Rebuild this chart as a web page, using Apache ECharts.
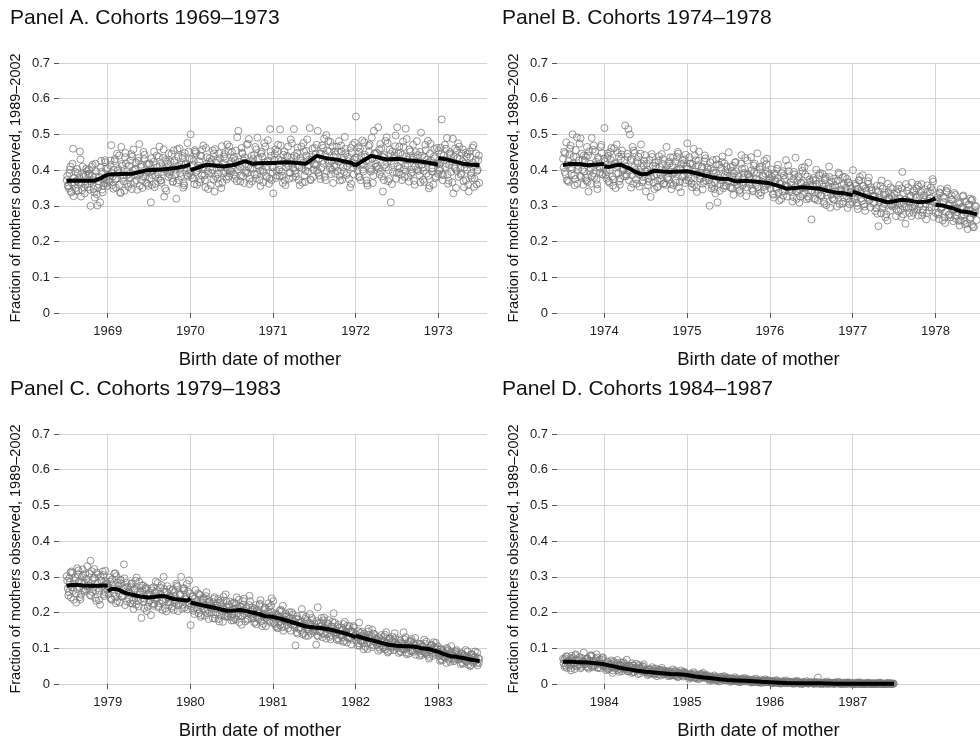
<!DOCTYPE html>
<html>
<head>
<meta charset="utf-8">
<script src="https://cdn.jsdelivr.net/npm/echarts@6/dist/echarts.min.js"></script>
<style>
html, body { margin: 0; padding: 0; background: #fff; }
#chart { width: 980px; height: 743px; }
</style>
</head>
<body>
<div id="chart"></div>
<script>
// ---- text ----
const panelTitles = [
  "Panel A. Cohorts 1969–1973",
  "Panel B. Cohorts 1974–1978",
  "Panel C. Cohorts 1979–1983",
  "Panel D. Cohorts 1984–1987"
];
const yTitle = "Fraction of mothers observed, 1989–2002";
const xTitle = "Birth date of mother";

// ---- tick labels ----
const yearsA = [1969, 1970, 1971, 1972, 1973];
const yearsB = [1974, 1975, 1976, 1977, 1978];
const yearsC = [1979, 1980, 1981, 1982, 1983];
const yearsD = [1984, 1985, 1986, 1987];

// ---- scatter, read off the cloud ----
// three passes per panel, each one value per week (one row = one quarter),
// the passes sit a third of a week apart
// panel A: mid-1968 .. mid-1973
const pointsA1 = [
  .372,.355,.401,.338,.46,.365,.342,.392,.378,.326,.41,.351,.386,
  .361,.402,.30,.383,.347,.418,.332,.369,.31,.395,.356,.428,.374,
  .405,.368,.47,.382,.425,.351,.398,.441,.336,.412,.379,.448,.362,
  .389,.427,.347,.458,.401,.372,.434,.356,.415,.383,.443,.365,.397,
  .419,.31,.386,.452,.362,.408,.437,.371,.395,.458,.349,.424,.381,
  .396,.445,.368,.427,.32,.412,.461,.383,.434,.357,.419,.476,.39,
  .5,.378,.426,.452,.359,.405,.441,.386,.469,.372,.418,.347,.433,
  .392,.455,.34,.421,.376,.447,.408,.365,.438,.394,.472,.382,.417,
  .451,.388,.428,.369,.51,.41,.462,.383,.436,.398,.474,.361,.425,
  .404,.443,.377,.491,.412,.356,.438,.395,.466,.381,.427,.515,.372,
  .335,.445,.398,.471,.383,.426,.364,.452,.409,.437,.376,.486,.419,
  .515,.391,.448,.372,.433,.405,.476,.367,.441,.396,.518,.428,.381,
  .462,.413,.51,.385,.447,.426,.488,.372,.455,.419,.479,.401,.438,
  .39,.466,.424,.371,.452,.409,.493,.386,.437,.418,.362,.471,.43,
  .55,.398,.451,.372,.483,.416,.437,.363,.468,.405,.491,.384,.446,
  .427,.52,.389,.461,.34,.442,.408,.476,.375,.31,.453,.418,.497,
  .52,.394,.448,.372,.465,.413,.487,.381,.436,.402,.471,.359,.425,
  .442,.386,.505,.408,.367,.456,.421,.349,.474,.396,.438,.378,.462,
  .454,.403,.542,.386,.471,.418,.362,.446,.395,.488,.409,.35,.433,
  .466,.387,.425,.352,.449,.401,.34,.437,.378,.47,.412,.36,.428
];
const pointsA2 = [
  .384,.349,.41,.362,.327,.395,.371,.343,.452,.366,.389,.335,.404,
  .352,.391,.368,.415,.338,.382,.301,.359,.407,.346,.377,.422,.364,
  .371,.414,.392,.348,.431,.377,.403,.359,.465,.386,.342,.419,.397,
  .412,.361,.438,.385,.404,.345,.426,.392,.372,.451,.381,.417,.356,
  .377,.433,.398,.352,.415,.389,.466,.371,.405,.326,.428,.393,.447,
  .423,.378,.455,.401,.364,.437,.392,.416,.351,.448,.406,.382,.431,
  .386,.414,.361,.447,.399,.425,.374,.458,.408,.352,.436,.391,.419,
  .428,.373,.459,.406,.389,.433,.35,.418,.445,.381,.402,.466,.397,
  .404,.437,.382,.492,.415,.368,.449,.427,.393,.471,.41,.376,.44,
  .431,.389,.458,.413,.372,.446,.401,.476,.384,.423,.362,.452,.408,
  .407,.458,.385,.429,.514,.396,.443,.371,.418,.466,.392,.435,.379,
  .441,.382,.463,.409,.427,.365,.452,.398,.486,.414,.374,.437,.402,
  .418,.471,.393,.445,.406,.462,.381,.498,.428,.452,.389,.467,.412,
  .444,.397,.481,.415,.373,.436,.46,.392,.425,.352,.448,.407,.477,
  .412,.464,.38,.439,.402,.478,.425,.357,.451,.396,.432,.51,.418,
  .449,.404,.473,.382,.436,.415,.492,.369,.457,.425,.395,.441,.376,
  .411,.466,.387,.443,.402,.516,.429,.368,.452,.394,.437,.41,.481,
  .398,.451,.415,.373,.436,.39,.482,.356,.427,.405,.459,.382,.418,
  .417,.463,.389,.44,.409,.49,.371,.451,.424,.335,.46,.398,.475,
  .432,.391,.458,.407,.372,.445,.416,.385,.463,.353,.429,.398,.441
];
const pointsA3 = [
  .357,.392,.339,.418,.378,.35,.403,.365,.43,.344,.383,.359,.397,
  .388,.345,.409,.372,.323,.396,.351,.381,.426,.338,.364,.404,.356,
  .382,.427,.358,.401,.374,.446,.392,.338,.417,.369,.436,.385,.353,
  .378,.445,.399,.367,.421,.387,.473,.409,.35,.431,.393,.362,.416,
  .396,.359,.423,.384,.441,.376,.411,.365,.434,.403,.342,.417,.388,
  .401,.367,.422,.388,.459,.372,.405,.44,.363,.415,.386,.452,.398,
  .431,.377,.456,.395,.413,.366,.439,.403,.385,.462,.397,.424,.358,
  .401,.447,.383,.426,.362,.41,.467,.391,.432,.374,.453,.399,.425,
  .433,.376,.455,.402,.423,.385,.446,.364,.418,.392,.487,.406,.369,
  .419,.465,.387,.433,.398,.452,.366,.421,.409,.484,.376,.44,.394,
  .429,.378,.452,.401,.469,.384,.423,.358,.44,.412,.393,.475,.405,
  .398,.437,.413,.358,.466,.421,.385,.454,.409,.43,.372,.46,.416,
  .446,.399,.432,.375,.469,.418,.443,.397,.481,.406,.426,.364,.452,
  .411,.452,.384,.469,.428,.395,.447,.412,.375,.462,.42,.388,.436,
  .435,.382,.46,.417,.396,.443,.371,.428,.472,.401,.364,.447,.41,
  .412,.458,.395,.438,.372,.482,.421,.4,.445,.361,.434,.467,.392,
  .446,.405,.425,.48,.381,.438,.412,.458,.39,.429,.37,.451,.402,
  .415,.366,.44,.398,.471,.429,.384,.447,.405,.36,.433,.418,.39,
  .398,.445,.372,.429,.46,.387,.415,.442,.366,.438,.404,.455,.381,
  .405,.446,.37,.418,.438,.359,.452,.392,.421,.376,.447,.401,.364
];
// panel B: mid-1973 .. mid-1978
const pointsB1 = [
  .432,.395,.478,.37,.445,.408,.5,.385,.456,.362,.427,.489,.401,
  .441,.379,.465,.34,.418,.49,.392,.452,.373,.436,.406,.471,.387,
  .518,.398,.447,.365,.429,.382,.461,.35,.412,.438,.376,.455,.403,
  .525,.387,.515,.5,.431,.362,.448,.395,.419,.354,.472,.381,.426,
  .34,.402,.368,.325,.437,.383,.411,.352,.426,.376,.445,.361,.398,
  .465,.381,.419,.347,.436,.392,.365,.451,.404,.338,.428,.387,.443,
  .475,.371,.418,.352,.46,.396,.339,.427,.384,.405,.362,.441,.391,
  .402,.3,.361,.428,.347,.393,.31,.415,.372,.438,.356,.397,.384,
  .45,.352,.398,.331,.421,.368,.385,.345,.442,.379,.404,.327,.389,
  .382,.436,.341,.395,.358,.447,.372,.329,.411,.353,.39,.432,.364,
  .374,.402,.331,.386,.348,.415,.362,.319,.397,.341,.428,.355,.383,
  .366,.312,.395,.435,.341,.378,.326,.407,.352,.388,.318,.421,.359,
  .262,.372,.338,.401,.315,.363,.347,.389,.306,.381,.329,.41,.353,
  .322,.376,.341,.298,.393,.335,.358,.312,.381,.327,.366,.304,.349,
  .4,.318,.357,.291,.372,.334,.386,.305,.349,.323,.379,.296,.342,
  .328,.285,.356,.243,.311,.371,.298,.337,.276,.362,.319,.302,.347,
  .334,.271,.312,.358,.289,.395,.306,.25,.342,.294,.326,.365,.281,
  .302,.348,.273,.327,.361,.289,.318,.262,.339,.296,.352,.375,.31,
  .28,.324,.263,.347,.295,.311,.252,.338,.274,.306,.329,.257,.291,
  .272,.31,.245,.293,.326,.258,.281,.235,.304,.267,.318,.24,.285
];
const pointsB2 = [
  .408,.447,.372,.425,.46,.389,.418,.358,.437,.401,.474,.381,.429,
  .396,.438,.367,.452,.405,.384,.469,.415,.36,.431,.393,.448,.41,
  .425,.376,.44,.401,.462,.357,.418,.39,.449,.369,.431,.405,.383,
  .411,.446,.372,.427,.386,.455,.4,.362,.437,.394,.419,.371,.442,
  .395,.358,.428,.381,.412,.347,.404,.371,.439,.386,.418,.363,.401,
  .412,.373,.436,.39,.358,.424,.401,.446,.367,.417,.383,.43,.372,
  .404,.436,.377,.417,.359,.428,.389,.452,.375,.41,.368,.433,.395,
  .381,.422,.349,.399,.365,.43,.386,.342,.407,.371,.419,.356,.394,
  .372,.409,.348,.391,.423,.359,.381,.336,.404,.365,.434,.352,.387,
  .361,.399,.342,.418,.375,.353,.409,.338,.386,.426,.357,.395,.371,
  .348,.381,.323,.369,.404,.337,.362,.392,.329,.375,.353,.413,.341,
  .359,.325,.387,.341,.372,.309,.364,.398,.336,.351,.382,.321,.368,
  .343,.378,.318,.361,.336,.392,.327,.354,.372,.302,.347,.381,.331,
  .352,.317,.369,.33,.388,.342,.306,.361,.338,.375,.319,.356,.329,
  .337,.362,.309,.348,.381,.321,.356,.298,.343,.369,.315,.352,.327,
  .309,.344,.278,.323,.356,.293,.331,.268,.318,.339,.286,.327,.305,
  .322,.291,.347,.306,.269,.335,.298,.361,.314,.28,.329,.296,.343,
  .331,.289,.354,.305,.273,.323,.346,.28,.315,.339,.296,.368,.309,
  .316,.276,.338,.291,.259,.322,.283,.349,.302,.268,.317,.288,.331,
  .294,.258,.311,.271,.329,.249,.287,.302,.262,.315,.241,.279,.298
];
const pointsB3 = [
  .451,.388,.415,.367,.469,.403,.438,.375,.492,.412,.384,.446,.359,
  .426,.371,.441,.398,.362,.457,.381,.423,.347,.409,.465,.389,.432,
  .387,.433,.369,.451,.415,.374,.42,.472,.391,.359,.444,.398,.427,
  .383,.437,.399,.351,.465,.408,.374,.425,.388,.446,.366,.413,.397,
  .418,.376,.393,.445,.365,.421,.388,.354,.409,.372,.431,.394,.359,
  .378,.424,.361,.413,.395,.371,.437,.352,.405,.381,.419,.364,.41,
  .381,.418,.363,.396,.441,.352,.414,.377,.393,.346,.425,.371,.408,
  .372,.404,.356,.392,.335,.416,.378,.361,.423,.349,.387,.41,.368,
  .384,.35,.412,.366,.397,.374,.342,.418,.357,.392,.363,.427,.379,
  .375,.348,.413,.364,.392,.334,.402,.368,.381,.345,.417,.359,.388,
  .365,.334,.391,.352,.378,.315,.369,.341,.385,.358,.326,.397,.347,
  .338,.374,.352,.319,.383,.346,.364,.331,.409,.357,.326,.373,.343,
  .356,.321,.372,.345,.386,.33,.361,.312,.376,.338,.355,.295,.367,
  .318,.357,.334,.371,.305,.346,.38,.323,.351,.294,.364,.339,.311,
  .322,.346,.3,.371,.338,.313,.355,.286,.334,.362,.318,.345,.307,
  .327,.294,.341,.317,.279,.348,.305,.331,.259,.321,.352,.298,.312,
  .303,.337,.284,.321,.349,.276,.317,.296,.352,.31,.271,.338,.292,
  .323,.359,.298,.34,.281,.33,.305,.357,.287,.321,.344,.269,.317,
  .311,.281,.335,.297,.326,.268,.342,.302,.276,.318,.29,.336,.264,
  .283,.306,.259,.297,.275,.312,.251,.288,.32,.247,.278,.3,.26
];
// panel C: mid-1978 .. mid-1983
const pointsC1 = [
  .302,.248,.286,.315,.261,.29,.228,.307,.272,.25,.321,.283,.265,
  .33,.276,.345,.258,.296,.241,.312,.268,.222,.289,.305,.257,.281,
  .275,.298,.237,.266,.309,.226,.284,.253,.292,.245,.335,.27,.231,
  .259,.226,.281,.21,.264,.298,.232,.251,.185,.276,.239,.268,.216,
  .255,.193,.262,.224,.287,.241,.218,.27,.234,.3,.212,.258,.229,
  .246,.213,.265,.229,.281,.204,.252,.3,.222,.268,.238,.209,.29,
  .165,.244,.211,.263,.226,.198,.249,.218,.236,.191,.257,.207,.231,
  .219,.184,.243,.201,.227,.175,.234,.212,.195,.251,.188,.222,.206,
  .226,.178,.21,.243,.19,.218,.166,.232,.197,.212,.183,.247,.203,
  .208,.171,.221,.186,.2,.235,.162,.195,.214,.179,.226,.19,.24,
  .232,.168,.193,.156,.205,.181,.219,.162,.188,.174,.201,.149,.183,
  .176,.108,.19,.155,.171,.21,.143,.182,.159,.135,.196,.165,.148,
  .168,.11,.215,.147,.172,.131,.186,.156,.14,.179,.125,.161,.198,
  .151,.124,.166,.137,.158,.118,.174,.143,.129,.162,.111,.147,.135,
  .139,.108,.172,.121,.146,.097,.132,.115,.155,.126,.103,.141,.118,
  .125,.093,.113,.137,.101,.119,.145,.088,.128,.106,.132,.095,.116,
  .112,.087,.121,.098,.145,.107,.083,.118,.094,.126,.09,.109,.101,
  .103,.079,.112,.091,.124,.086,.099,.071,.108,.095,.117,.084,.1,
  .09,.065,.098,.077,.087,.059,.094,.073,.106,.081,.068,.089,.076,
  .078,.056,.086,.069,.095,.062,.074,.05,.083,.066,.091,.058,.072
];
const pointsC2 = [
  .289,.257,.312,.271,.236,.298,.266,.318,.243,.284,.305,.259,.295,
  .268,.309,.247,.291,.322,.262,.283,.235,.301,.274,.251,.317,.279,
  .252,.287,.236,.278,.245,.302,.263,.228,.281,.249,.296,.259,.272,
  .238,.271,.225,.262,.289,.243,.217,.257,.276,.231,.266,.204,.251,
  .234,.268,.219,.257,.241,.283,.226,.249,.207,.266,.238,.274,.221,
  .229,.262,.207,.245,.276,.221,.251,.233,.268,.214,.246,.259,.225,
  .217,.245,.196,.232,.209,.251,.188,.227,.241,.203,.236,.182,.224,
  .201,.229,.183,.214,.238,.196,.221,.174,.209,.232,.191,.217,.187,
  .195,.228,.181,.212,.236,.19,.207,.222,.175,.216,.199,.232,.184,
  .184,.211,.167,.198,.221,.176,.193,.207,.162,.189,.215,.172,.201,
  .171,.197,.158,.186,.165,.204,.149,.179,.192,.156,.183,.168,.195,
  .158,.183,.141,.172,.151,.193,.162,.135,.176,.147,.168,.185,.154,
  .149,.176,.133,.161,.185,.142,.158,.127,.169,.152,.137,.174,.145,
  .138,.161,.122,.149,.131,.168,.141,.116,.155,.128,.147,.162,.133,
  .121,.148,.107,.133,.115,.141,.126,.098,.137,.111,.152,.119,.129,
  .109,.131,.096,.122,.104,.138,.114,.091,.127,.101,.119,.142,.108,
  .101,.124,.089,.113,.097,.131,.105,.085,.118,.094,.115,.129,.099,
  .093,.112,.081,.104,.089,.119,.097,.076,.109,.087,.103,.115,.091,
  .078,.097,.066,.088,.073,.101,.082,.062,.091,.071,.085,.095,.069,
  .069,.086,.057,.078,.064,.091,.071,.053,.081,.062,.075,.088,.059
];
const pointsC3 = [
  .268,.296,.242,.311,.279,.253,.324,.287,.237,.299,.262,.308,.274,
  .285,.249,.316,.27,.298,.233,.307,.261,.29,.315,.246,.287,.264,
  .266,.241,.293,.255,.31,.232,.276,.29,.244,.268,.221,.284,.257,
  .253,.281,.234,.267,.222,.258,.286,.238,.262,.212,.271,.246,.229,
  .249,.225,.271,.236,.26,.214,.252,.277,.231,.258,.203,.243,.266,
  .243,.218,.257,.234,.272,.226,.249,.211,.262,.237,.28,.221,.254,
  .229,.205,.239,.214,.254,.221,.193,.237,.211,.246,.198,.228,.215,
  .213,.238,.194,.22,.182,.227,.205,.244,.189,.216,.198,.231,.178,
  .209,.185,.224,.198,.173,.217,.191,.239,.203,.18,.221,.194,.214,
  .197,.174,.206,.182,.225,.19,.169,.211,.185,.203,.177,.219,.193,
  .186,.162,.193,.173,.208,.159,.181,.197,.166,.188,.175,.201,.164,
  .167,.145,.181,.158,.174,.139,.169,.188,.153,.172,.141,.179,.16,
  .159,.136,.171,.147,.164,.178,.139,.155,.168,.132,.161,.148,.172,
  .144,.128,.157,.135,.152,.121,.146,.163,.13,.149,.124,.158,.139,
  .131,.114,.143,.122,.136,.104,.128,.147,.117,.134,.109,.139,.124,
  .117,.102,.126,.108,.133,.097,.115,.124,.094,.121,.105,.129,.111,
  .108,.092,.116,.099,.125,.088,.111,.103,.121,.093,.107,.082,.114,
  .098,.085,.106,.092,.113,.082,.101,.094,.11,.079,.097,.088,.105,
  .085,.07,.093,.076,.082,.098,.068,.087,.079,.064,.092,.074,.083,
  .074,.061,.081,.067,.077,.054,.072,.083,.06,.076,.065,.052,.07
];
// panel D: mid-1983 .. mid-1987
const pointsD1 = [
  .071,.048,.078,.055,.066,.038,.074,.058,.083,.051,.069,.044,.062,
  .088,.057,.072,.043,.065,.079,.05,.061,.083,.046,.068,.054,.075,
  .052,.039,.063,.045,.056,.031,.059,.048,.067,.042,.054,.036,.061,
  .044,.068,.035,.049,.031,.052,.041,.057,.028,.045,.038,.05,.034,
  .038,.025,.042,.031,.047,.029,.036,.022,.04,.033,.045,.027,.035,
  .031,.022,.036,.027,.041,.024,.033,.019,.029,.038,.025,.032,.028,
  .026,.015,.029,.02,.033,.018,.024,.013,.027,.021,.031,.017,.023,
  .018,.009,.021,.014,.024,.011,.017,.007,.02,.013,.022,.01,.016,
  .013,.006,.016,.01,.019,.008,.012,.005,.015,.009,.017,.007,.011,
  .01,.004,.012,.007,.015,.005,.009,.003,.011,.006,.013,.005,.008,
  .007,.002,.009,.004,.011,.003,.006,.001,.008,.004,.01,.002,.005,
  .005,.001,.007,.003,.009,.002,.004,0,.006,.003,.008,.001,.004,
  .004,.001,.006,.002,.018,.001,.003,0,.005,.002,.007,.001,.003,
  .003,0,.005,.002,.006,.001,.003,0,.004,.001,.005,.002,.002,
  .002,0,.004,.001,.005,0,.002,0,.003,.001,.004,0,.002,
  .002,0,.003,.001,.004,0,.001,0,.002,.001,.003,0,.001
];
const pointsD2 = [
  .058,.072,.045,.066,.051,.079,.061,.042,.069,.055,.075,.048,.064,
  .063,.049,.071,.056,.081,.047,.066,.052,.074,.059,.044,.068,.053,
  .056,.043,.061,.049,.066,.038,.053,.046,.059,.034,.051,.044,.057,
  .047,.036,.052,.041,.058,.033,.045,.039,.053,.03,.043,.048,.037,
  .036,.029,.041,.033,.038,.026,.043,.031,.037,.024,.039,.032,.034,
  .029,.035,.024,.031,.027,.037,.022,.033,.026,.03,.021,.034,.027,
  .024,.019,.027,.021,.026,.016,.025,.02,.028,.018,.023,.019,.025,
  .016,.012,.019,.015,.018,.01,.017,.013,.02,.012,.016,.011,.018,
  .012,.009,.014,.01,.013,.007,.011,.009,.014,.008,.012,.01,.013,
  .008,.006,.011,.007,.009,.005,.01,.006,.008,.004,.009,.007,.01,
  .006,.003,.007,.005,.008,.003,.006,.004,.007,.002,.005,.004,.006,
  .004,.002,.005,.003,.006,.001,.004,.002,.005,.003,.004,.002,.005,
  .003,.001,.004,.002,.005,.001,.003,.002,.004,.001,.003,.002,.003,
  .002,.001,.003,.002,.004,.001,.002,.001,.003,.001,.002,.001,.002,
  .001,0,.002,.001,.003,.001,.001,0,.002,.001,.002,0,.001,
  .001,0,.002,.001,.002,0,.001,0,.002,.001,.001,0,.001
];
const pointsD3 = [
  .067,.052,.076,.061,.044,.07,.057,.08,.049,.065,.054,.073,.06,
  .055,.067,.047,.062,.077,.051,.059,.07,.045,.064,.057,.072,.05,
  .048,.058,.041,.054,.047,.063,.043,.055,.038,.05,.06,.042,.052,
  .042,.049,.037,.045,.052,.034,.046,.041,.05,.036,.044,.055,.039,
  .033,.039,.028,.036,.042,.03,.035,.027,.04,.032,.036,.029,.037,
  .026,.032,.023,.029,.034,.025,.03,.021,.028,.033,.024,.03,.026,
  .021,.026,.017,.023,.029,.019,.024,.016,.022,.027,.018,.024,.02,
  .014,.018,.011,.016,.02,.012,.015,.009,.017,.014,.019,.012,.015,
  .01,.013,.008,.012,.015,.009,.011,.006,.012,.01,.014,.008,.011,
  .007,.009,.005,.008,.011,.006,.008,.004,.009,.007,.01,.005,.008,
  .004,.006,.003,.005,.007,.002,.005,.003,.006,.004,.007,.003,.005,
  .003,.004,.001,.003,.005,.002,.003,.001,.004,.002,.004,.002,.003,
  .002,.003,.001,.002,.004,.001,.002,.001,.003,.001,.002,.001,.002,
  .002,.001,.003,.001,.002,0,.002,.001,.003,.001,.002,.001,.001,
  .001,.001,.002,0,.002,.001,.001,0,.002,.001,.001,0,.001,
  .001,0,.001,.001,.002,0,.001,0,.001,.001,.002,0,.001
];

// ---- smoothed line (null = break at a cohort cut-off) ----
const trendA_t = [1968.5,1968.6,1968.7,1968.83,1968.92,1969.0,1969.15,1969.3,1969.48,1969.65,1969.8,1969.92,1970.0, null,
  1970.0,1970.1,1970.2,1970.4,1970.55,1970.66,1970.75,1970.9,1971.0,1971.15,1971.3,1971.4,1971.53,1971.65,1971.8,1971.95,1972.0,1972.1,1972.19,1972.3,1972.37,1972.5,1972.62,1972.76,1972.9,1973.0, null,
  1973.0,1973.1,1973.2,1973.3,1973.4,1973.5];
const trendA_v = [.37,.371,.37,.37,.378,.388,.389,.39,.40,.402,.405,.41,.416, null,
  .40,.408,.415,.41,.416,.425,.418,.42,.42,.422,.42,.418,.44,.433,.428,.42,.413,.428,.44,.434,.43,.432,.428,.425,.42,.416, null,
  .434,.43,.424,.418,.415,.414];

const trendB_t = [1973.5,1973.6,1973.7,1973.8,1973.9,1974.0, null,
  1974.0,1974.06,1974.12,1974.2,1974.3,1974.38,1974.45,1974.52,1974.6,1974.7,1974.8,1974.9,1975.0,1975.1,1975.2,1975.3,1975.4,1975.5,1975.6,1975.7,1975.8,1975.9,1976.0,1976.1,1976.2,1976.3,1976.4,1976.5,1976.6,1976.7,1976.8,1976.9,1977.0, null,
  1977.0,1977.1,1977.2,1977.3,1977.42,1977.5,1977.6,1977.7,1977.8,1977.9,1978.0, null,
  1978.0,1978.1,1978.2,1978.3,1978.4,1978.5];
const trendB_v = [.414,.418,.417,.414,.416,.417, null,
  .41,.409,.413,.415,.405,.395,.388,.39,.398,.396,.395,.396,.397,.392,.386,.38,.376,.375,.368,.37,.368,.366,.363,.356,.348,.35,.352,.35,.348,.342,.337,.335,.33, null,
  .34,.332,.324,.318,.31,.313,.317,.314,.31,.312,.32, null,
  .303,.3,.294,.285,.282,.276];

const trendC_t = [1978.5,1978.6,1978.7,1978.8,1978.9,1979.0, null,
  1979.0,1979.05,1979.12,1979.2,1979.28,1979.35,1979.42,1979.5,1979.58,1979.65,1979.72,1979.8,1979.9,1979.97,1980.0, null,
  1980.0,1980.08,1980.15,1980.22,1980.3,1980.38,1980.45,1980.53,1980.6,1980.68,1980.75,1980.83,1980.9,1981.0,1981.1,1981.2,1981.3,1981.4,1981.5,1981.6,1981.7,1981.8,1981.9,1982.0, null,
  1982.0,1982.1,1982.2,1982.3,1982.4,1982.5,1982.6,1982.7,1982.8,1982.9,1983.0,1983.08,1983.15,1983.22,1983.3,1983.4,1983.5];
const trendC_v = [.275,.278,.276,.275,.275,.276, null,
  .26,.267,.265,.256,.251,.247,.244,.242,.244,.247,.244,.238,.235,.234,.24, null,
  .228,.224,.22,.217,.213,.208,.205,.206,.207,.204,.2,.196,.19,.188,.182,.175,.168,.161,.158,.156,.152,.146,.14,.131, null,
  .135,.128,.122,.116,.11,.107,.106,.105,.1,.097,.09,.083,.078,.076,.073,.068,.064];

const trendD_t = [1983.5,1983.6,1983.7,1983.8,1983.9,1984.0,1984.1,1984.2,1984.3,1984.4,1984.5,1984.6,1984.7,1984.8,1984.9,1985.0,1985.1,1985.2,1985.3,1985.4,1985.5,1985.6,1985.7,1985.8,1985.9,1986.0,1986.2,1986.4,1986.6,1986.8,1987.0,1987.2,1987.5];
const trendD_v = [.062,.062,.061,.06,.058,.055,.05,.045,.041,.037,.034,.032,.03,.028,.027,.025,.021,.018,.016,.013,.011,.01,.009,.008,.006,.005,.003,.002,.002,.001,.001,.001,.001];

// ---- layout ----
const font = '"Liberation Sans", Arial, Helvetica, sans-serif';
const panels = [
  { title: panelTitles[0], years: yearsA, passes: [pointsA1, pointsA2, pointsA3], start: 1968.5, span: 5,
    tt: trendA_t, tv: trendA_v, min: 1968.41, max: 1973.59,
    grid: { left: 59, width: 428, top: 63, height: 250 }, tl: 10, ttop: 8 },
  { title: panelTitles[1], years: yearsB, passes: [pointsB1, pointsB2, pointsB3], start: 1973.5, span: 5,
    tt: trendB_t, tv: trendB_v, min: 1973.43, max: 1978.61,
    grid: { left: 557, width: 429, top: 63, height: 250 }, tl: 502, ttop: 8 },
  { title: panelTitles[2], years: yearsC, passes: [pointsC1, pointsC2, pointsC3], start: 1978.5, span: 5,
    tt: trendC_t, tv: trendC_v, min: 1978.41, max: 1983.59,
    grid: { left: 59, width: 428, top: 434, height: 250 }, tl: 10, ttop: 379 },
  { title: panelTitles[3], years: yearsD, passes: [pointsD1, pointsD2, pointsD3], start: 1983.5, span: 4,
    tt: trendD_t, tv: trendD_v, min: 1983.43, max: 1988.61,
    grid: { left: 557, width: 429, top: 434, height: 250 }, tl: 502, ttop: 379 }
];

const grids = [], xAxes = [], yAxes = [], titles = [], series = [];
const gridColor = "#d3d3d3";
const tickColor = "#555";

panels.forEach(function (p, k) {
  // panels B and D run past the right edge of the picture, as in the original
  grids.push(Object.assign({ containLabel: false, outerBoundsMode: "none" }, p.grid));
  titles.push({
    text: p.title, left: p.tl, top: p.ttop, padding: 0,
    textStyle: { fontFamily: font, fontSize: 21, fontWeight: "normal", color: "#111" }
  });
  xAxes.push({
    gridIndex: k, type: "value", min: p.min, max: p.max,
    axisLine: { show: false },
    axisTick: { show: true, length: 5, customValues: p.years, lineStyle: { color: tickColor } },
    axisLabel: { customValues: p.years, formatter: function (v) { return String(Math.round(v)); },
      margin: 12, fontFamily: font, fontSize: 13, color: "#222" },
    splitLine: { show: true, lineStyle: { color: gridColor, width: 1 } },
    name: xTitle, nameLocation: "middle", nameGap: 37,
    nameTextStyle: { fontFamily: font, fontSize: 18.5, color: "#111", padding: [0, 26, 0, 0] }
  });
  yAxes.push({
    gridIndex: k, type: "value", min: 0, max: 0.7, interval: 0.1,
    axisLine: { show: false },
    axisTick: { show: true, length: 5, lineStyle: { color: tickColor } },
    axisLabel: { formatter: function (v) { return v === 0 ? "0" : v.toFixed(1); },
      margin: 9, fontFamily: font, fontSize: 13, color: "#222" },
    splitLine: { show: true, lineStyle: { color: gridColor, width: 1 } },
    name: yTitle, nameLocation: "middle", nameGap: 36, nameRotate: 90,
    nameTextStyle: { fontFamily: font, fontSize: 14.5, color: "#111" }
  });

  // each pass: one point per week, offset by a third of a week
  const data = [];
  p.passes.forEach(function (pass, j) {
    const n = pass.length;
    pass.forEach(function (v, i) {
      data.push([p.start + (i + (j + 0.5) / p.passes.length) * p.span / n, v]);
    });
  });
  series.push({
    type: "scatter", xAxisIndex: k, yAxisIndex: k, silent: true,
    symbol: "circle", symbolSize: 7, large: false,
    itemStyle: { color: "rgba(0,0,0,0)", borderColor: "#7a7a7a", borderWidth: 1 },
    data: data, z: 2
  });

  // smoothed line, one series per piece between breaks
  let seg = [];
  const flush = function () {
    if (seg.length) {
      series.push({
        type: "line", xAxisIndex: k, yAxisIndex: k, silent: true,
        symbol: "none", showSymbol: false,
        lineStyle: { color: "#000", width: 4 },
        data: seg, z: 3
      });
    }
    seg = [];
  };
  p.tt.forEach(function (t, i) {
    if (t === null) { flush(); } else { seg.push([t, p.tv[i]]); }
  });
  flush();
});

const chart = echarts.init(document.getElementById("chart"));
chart.setOption({
  animation: false,
  backgroundColor: "#fff",
  title: titles,
  grid: grids,
  xAxis: xAxes,
  yAxis: yAxes,
  series: series
});
</script>
</body>
</html>
